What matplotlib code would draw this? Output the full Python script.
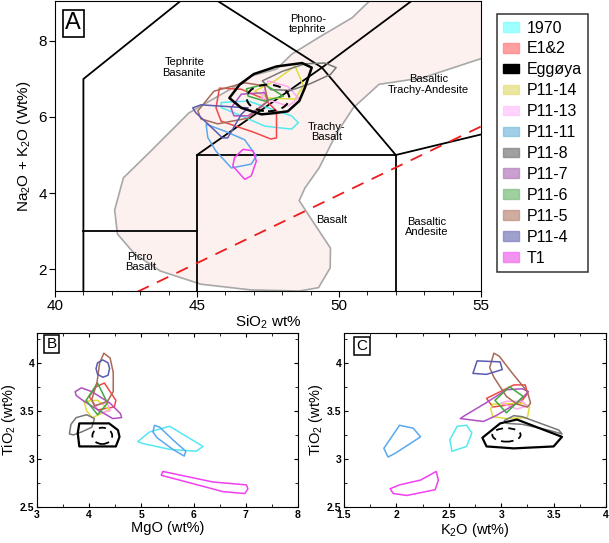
import numpy as np
import matplotlib.pyplot as plt
from matplotlib.patches import Polygon, Ellipse, Patch
from matplotlib.ticker import MultipleLocator, FormatStrFormatter

plt.rcParams['font.family'] = ['Liberation Sans', 'DejaVu Sans']
plt.rcParams['mathtext.fontset'] = 'custom'
plt.rcParams['mathtext.rm'] = 'Liberation Sans'
plt.rcParams['mathtext.it'] = 'Liberation Sans:italic'
plt.rcParams['mathtext.bf'] = 'Liberation Sans:bold'
plt.rcParams['mathtext.default'] = 'regular'

## samples and colours
samples = ['1970', 'E1&2', 'Eggøya', 'P11-14', 'P11-13', 'P11-11',
           'P11-8', 'P11-7', 'P11-6', 'P11-5', 'P11-4', 'T1']
line_colors = ['#55e8f0', '#f04848', '#000000', '#e0dc3c', '#ffa8f0', '#5aa8ee',
               '#777777', '#b050c0', '#40a840', '#a86a58', '#5a5ab0', '#f040f0']
legend_colors = ['#80ffff', '#ff8080', '#000000', '#e6e080', '#ffc6ff', '#80c0e0',
                 '#808080', '#b880c0', '#80c080', '#c09080', '#8080c0', '#f070f0']

## contours (x, y)
tas = {
    '1970': [(45.85, 6.38), (46.8, 6.42), (48.33, 6.03), (48.57, 5.85), (48.33, 5.68),
             (47.39, 5.76), (46.56, 6.03), (45.85, 6.25)],
    'E1&2': [(45.79, 6.76), (46.56, 6.73), (47.38, 6.47), (47.8, 6.16), (47.8, 5.45),
             (47.6, 5.42), (47.03, 5.59), (45.85, 5.89), (45.67, 6.24)],
    'Eggøya': [(46.14, 6.5), (46.5, 6.85), (47.0, 7.13), (47.8, 7.33), (48.7, 7.42), (49.04, 7.3),
               (48.8, 6.77), (48.6, 6.42), (48.2, 6.15), (47.7, 6.1), (47.27, 6.07), (46.56, 6.24)],
    'P11-14': [(47.03, 6.68), (47.74, 6.95), (48.2, 7.2), (48.45, 7.34), (48.75, 6.82),
               (48.45, 6.47), (47.5, 6.5)],
    'P11-13': [(47.5, 6.95), (48.2, 6.8), (48.57, 6.5), (48.22, 6.29), (47.27, 6.5)],
    'P11-11': [(45.32, 5.81), (45.97, 5.63), (46.68, 5.4), (47.09, 4.97), (46.91, 4.76),
               (46.21, 4.66), (45.67, 5.1), (45.38, 5.46)],
    'P11-8': [(47.3, 6.95), (48.0, 7.2), (48.8, 7.4), (49.5, 7.42), (49.9, 7.3),
              (49.7, 7.12), (49.0, 6.88), (48.3, 6.7), (47.6, 6.72)],
    'P11-7': [(46.2, 6.24), (46.56, 6.6), (47.38, 6.64), (47.5, 6.42), (46.8, 6.03), (46.3, 6.03)],
    'P11-6': [(46.74, 6.74), (47.38, 6.86), (48.04, 6.55), (47.38, 6.42), (46.8, 6.55)],
    'P11-5': [(45.03, 6.16), (45.6, 6.68), (46.68, 6.9), (47.38, 6.82), (47.5, 6.42),
              (46.8, 5.97), (45.73, 5.82), (45.14, 5.95)],
    'P11-4': [(44.85, 6.24), (45.14, 6.32), (46.8, 6.24), (46.56, 6.07), (46.08, 5.45),
              (45.9, 5.45), (45.38, 5.82), (44.96, 6.11)],
    'T1': [(46.62, 5.15), (46.97, 5.11), (47.09, 4.84), (46.91, 4.45), (46.68, 4.36),
           (46.26, 4.71), (46.32, 4.93)],
}

mgo_tio2 = {
    '1970': [(4.93, 3.18), (5.15, 3.28), (5.54, 3.34), (6.18, 3.13), (6.05, 3.08),
             (5.54, 3.1), (5.03, 3.16)],
    'E1&2': [(4.29, 3.79), (4.51, 3.61), (4.48, 3.54), (4.16, 3.51), (4.0, 3.65), (4.13, 3.75)],
    'Eggøya': [(3.81, 3.37), (4.38, 3.37), (4.55, 3.3), (4.58, 3.23), (4.51, 3.13),
               (3.81, 3.13), (3.78, 3.27)],
    'P11-14': [(3.9, 3.6), (4.16, 3.61), (4.38, 3.51), (4.06, 3.43), (3.95, 3.5)],
    'P11-13': [(4.1, 3.56), (4.35, 3.58), (4.4, 3.5), (4.2, 3.48)],
    'P11-11': [(5.25, 3.35), (5.35, 3.33), (5.6, 3.2), (5.85, 3.08), (5.82, 3.03),
               (5.6, 3.1), (5.3, 3.22), (5.22, 3.28)],
    'P11-8': [(3.62, 3.26), (3.65, 3.36), (3.75, 3.43), (3.95, 3.46), (4.1, 3.42),
              (4.05, 3.33), (3.85, 3.28), (3.7, 3.25)],
    'P11-7': [(3.73, 3.7), (3.85, 3.74), (4.05, 3.7), (4.4, 3.58), (4.6, 3.47), (4.62, 3.43),
              (4.45, 3.42), (4.2, 3.5), (3.9, 3.6), (3.75, 3.66)],
    'P11-6': [(4.16, 3.79), (4.35, 3.58), (4.16, 3.46), (3.94, 3.61)],
    'P11-5': [(4.28, 4.1), (4.4, 4.05), (4.46, 3.9), (4.46, 3.7), (4.35, 3.6),
              (4.1, 3.55), (4.05, 3.62), (4.15, 3.8), (4.2, 4.0)],
    'P11-4': [(4.26, 4.03), (4.36, 4.0), (4.39, 3.94), (4.36, 3.87), (4.26, 3.85),
              (4.16, 3.88), (4.13, 3.94), (4.16, 4.0)],
    'T1': [(5.41, 2.87), (6.37, 2.76), (7.01, 2.73), (7.04, 2.69), (6.98, 2.64),
           (6.56, 2.66), (5.73, 2.78), (5.38, 2.83)],
}

k2o_tio2 = {
    '1970': [(2.51, 3.2), (2.58, 3.34), (2.67, 3.35), (2.72, 3.27), (2.67, 3.13), (2.53, 3.08)],
    'E1&2': [(2.86, 3.63), (3.12, 3.77), (3.23, 3.77), (3.25, 3.68), (3.18, 3.58), (2.92, 3.54)],
    'Eggøya': [(2.82, 3.22), (2.99, 3.37), (3.15, 3.41), (3.58, 3.23), (3.5, 3.13),
               (3.12, 3.11), (2.86, 3.13)],
    'P11-14': [(2.9, 3.52), (2.92, 3.57), (3.2, 3.58), (3.27, 3.55), (3.25, 3.43),
               (3.05, 3.42), (2.92, 3.44)],
    'P11-13': [(3.0, 3.58), (3.05, 3.6), (3.2, 3.6), (3.25, 3.55), (3.15, 3.52)],
    'P11-11': [(1.88, 3.11), (2.03, 3.35), (2.16, 3.32), (2.23, 3.23), (2.16, 3.18),
               (1.99, 3.06), (1.92, 3.02)],
    'P11-8': [(3.03, 3.4), (3.12, 3.45), (3.2, 3.44), (3.55, 3.3), (3.58, 3.26),
              (3.45, 3.3), (3.2, 3.36), (3.05, 3.37)],
    'P11-7': [(2.61, 3.42), (2.65, 3.45), (2.85, 3.58), (3.05, 3.72), (3.2, 3.73), (3.26, 3.7),
              (3.15, 3.58), (2.95, 3.45), (2.83, 3.39)],
    'P11-6': [(3.08, 3.75), (3.21, 3.65), (3.05, 3.48), (2.94, 3.61)],
    'P11-5': [(2.93, 4.1), (2.98, 4.07), (3.1, 3.9), (3.25, 3.7), (3.28, 3.58), (3.25, 3.54),
              (3.15, 3.57), (3.05, 3.65), (2.93, 3.85), (2.89, 3.95)],
    'P11-4': [(2.77, 4.02), (2.99, 4.01), (3.01, 3.93), (2.86, 3.88), (2.73, 3.89)],
    'T1': [(1.94, 2.69), (2.03, 2.73), (2.23, 2.78), (2.38, 2.87), (2.4, 2.78),
           (2.37, 2.68), (2.1, 2.62), (1.97, 2.64)],
}

# dashed Eggøya contours: centre x, centre y, width, height
egg_dash_tas = (47.5, 6.5, 1.5, 0.7)
egg_dash_mgo = (4.25, 3.24, 0.38, 0.17)
egg_dash_k2o = (3.05, 3.25, 0.27, 0.14)

# grey envelope in TAS
envelope = [(51.7, 9.5), (50.46, 8.61), (49.28, 8.09), (48.33, 7.65), (47.8, 7.26),
            (46.91, 7.08), (46.38, 6.82), (44.72, 6.11), (43.37, 5.1), (42.41, 4.4),
            (42.1, 3.55), (42.2, 2.92), (42.8, 2.4), (43.7, 1.95), (45.14, 1.6),
            (46.9, 1.45), (48.6, 1.42), (49.28, 1.51), (49.69, 2.03), (49.7, 2.55),
            (49.0, 3.34), (48.6, 3.8), (48.8, 4.13), (49.3, 4.66), (49.9, 5.55),
            (50.5, 6.24), (51.41, 6.86), (52.94, 7.03), (55.1, 7.56), (55.5, 7.65),
            (55.5, 9.5)]

# TAS field boundaries (Le Bas)
tas_lines = [
    [(41, 0), (41, 7), (45, 9.4)],
    [(41, 3), (45, 3)],
    [(45, 0), (45, 5), (52, 5), (52, 0)],
    [(45, 5), (49.4, 7.3), (53, 9.3)],
    [(45, 9.4), (49.4, 7.3), (52, 5), (57, 5.9)],
]
alk_line = [(42.9, 1.4), (55, 5.75)]

tas_labels = [('Phono-\ntephrite', 48.9, 8.45), ('Tephrite\nBasanite', 44.55, 7.3),
              ('Trachy-\nBasalt', 49.55, 5.6), ('Basaltic\nTrachy-Andesite', 53.15, 6.85),
              ('Basalt', 49.75, 3.29), ('Basaltic\nAndesite', 53.1, 3.1),
              ('Picro\nBasalt', 43.0, 2.18)]


def draw_contours(ax, data, dash, thin=1.1, thick=1.8):
    for name, col in zip(samples, line_colors):
        lw = thick if name == 'Eggøya' else thin
        ax.add_patch(Polygon(data[name], closed=True, fill=False, ec=col, lw=lw,
                             joinstyle='round', zorder=4 if name == 'Eggøya' else 3))
    ax.add_patch(Ellipse(dash[:2], dash[2], dash[3], fill=False, ec='black',
                         lw=thick * 0.8, ls=(0, (4, 3)), zorder=4))


fig = plt.figure(figsize=(6.09, 5.43), dpi=100)

## panel A
axA = fig.add_axes([0.0903, 0.464, 0.6995, 0.534])
axA.add_patch(Polygon(envelope, closed=True, fc='#fcf1ee', ec='#a8a8a8', lw=1.2, zorder=1))
for seg in tas_lines:
    xs, ys = zip(*seg)
    axA.plot(xs, ys, color='black', lw=1.3, zorder=2)
xs, ys = zip(*alk_line)
axA.plot(xs, ys, color='#ee1c1c', lw=1.3, ls=(0, (7, 5)), zorder=2)
draw_contours(axA, tas, egg_dash_tas)
for txt, x, y in tas_labels:
    axA.text(x, y, txt, ha='center', va='center', fontsize=8, linespacing=1.05, zorder=5)
axA.set_xlim(40, 55)
axA.set_ylim(1.42, 9.05)
axA.xaxis.set_major_locator(MultipleLocator(5))
axA.xaxis.set_minor_locator(MultipleLocator(1))
axA.yaxis.set_major_locator(MultipleLocator(2))
axA.tick_params(direction='out', labelsize=11, length=4, pad=2)
axA.tick_params(which='minor', direction='out', length=3)
axA.set_xlabel('SiO$_2$ wt%', fontsize=11, labelpad=0)
axA.set_ylabel('Na$_2$O + K$_2$O (Wt%)', fontsize=11, labelpad=4)
axA.text(0.043, 0.923, 'A', transform=axA.transAxes, ha='center', va='center', fontsize=17,
         bbox=dict(boxstyle='square,pad=0.12', fc='white', ec='black', lw=1.2), zorder=6)

handles = [Patch(fc=c, ec=c, alpha=1.0 if n == 'Eggøya' else 0.75) for n, c in zip(samples, legend_colors)]
leg = fig.legend(handles, samples, loc='upper left', bbox_to_anchor=(0.816, 0.974), fontsize=11.5,
                 frameon=True, fancybox=False, edgecolor='black', handlelength=1.0, handleheight=0.55,
                 handletextpad=0.45, labelspacing=0.37, borderpad=0.4, borderaxespad=0)
leg.get_frame().set_linewidth(1.1)

## panels B and C
for rect, data, dash, xl, xlim, lab, lab_pos in [
        ([0.0608, 0.0663, 0.4286, 0.3204], mgo_tio2, egg_dash_mgo, 'MgO (wt%)', (3, 8), 'B', (0.056, 0.937)),
        ([0.5649, 0.0663, 0.4302, 0.3204], k2o_tio2, egg_dash_k2o, 'K$_2$O (wt%)', (1.5, 4), 'C', (0.068, 0.925))]:
    ax = fig.add_axes(rect)
    draw_contours(ax, data, dash, thin=1.1, thick=1.6)
    ax.set_xlim(*xlim)
    ax.set_ylim(2.5, 4.31)
    ax.xaxis.set_major_locator(MultipleLocator(1 if xlim[0] == 3 else 0.5))
    ax.xaxis.set_minor_locator(MultipleLocator(0.5 if xlim[0] == 3 else 0.25))
    ax.yaxis.set_major_locator(MultipleLocator(0.5))
    ax.yaxis.set_minor_locator(MultipleLocator(0.25))
    ax.xaxis.set_major_formatter(FormatStrFormatter('%g'))
    ax.yaxis.set_major_formatter(FormatStrFormatter('%g'))
    ax.tick_params(direction='in', labelsize=7.5, length=3, top=True, right=True, pad=2)
    ax.tick_params(which='minor', direction='in', length=2, top=True, right=True)
    for t in ax.get_xticklabels() + ax.get_yticklabels():
        t.set_fontweight('bold')
    ax.set_xlabel(xl, fontsize=10.5, labelpad=1)
    ax.set_ylabel('TiO$_2$ (wt%)', fontsize=10.5, labelpad=1)
    ax.text(lab_pos[0], lab_pos[1], lab, transform=ax.transAxes, ha='center', va='center',
            fontsize=11, bbox=dict(boxstyle='square,pad=0.15', fc='white', ec='black', lw=1.1))

fig.savefig('out.png', dpi=100)
